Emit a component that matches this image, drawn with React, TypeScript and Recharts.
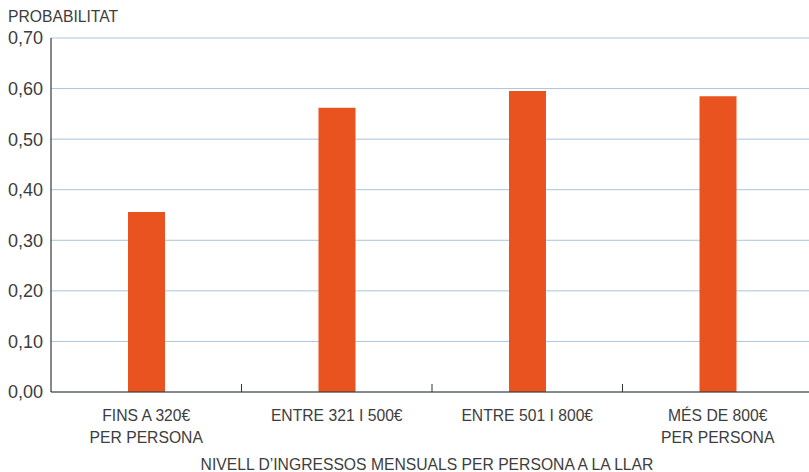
import { BarChart, Bar, XAxis, YAxis, CartesianGrid } from 'recharts';

const categories = [
  'FINS A 320€\nPER PERSONA',
  'ENTRE 321 I 500€',
  'ENTRE 501 I 800€',
  'MÉS DE 800€\nPER PERSONA',
];
const probabilities = [0.356, 0.562, 0.595, 0.585];
const yTicks = [0, 0.1, 0.2, 0.3, 0.4, 0.5, 0.6, 0.7];

const data = categories.map((name, i) => ({ name, value: probabilities[i] }));

const TEXT = '#3d3d3d';
const AXIS = '#333333';
const FONT = 15.7;

const CategoryTick = ({ x, y, payload, index }: any) => {
  const lines = String(payload.value).split('\n');
  const half = payload.offset ?? 0;
  return (
    <g>
      {index > 0 && <line x1={x - half} x2={x - half} y1={y - 8} y2={y} stroke={AXIS} strokeWidth={1} />}
      <text x={x} y={y} textAnchor="middle" fill={TEXT} fontSize={FONT}>
        {lines.map((l, i) => (
          <tspan key={i} x={x} dy={i === 0 ? 29 : 22}>
            {l}
          </tspan>
        ))}
      </text>
    </g>
  );
};

const App = () => {
  return (
    <div
      style={{
        position: 'absolute',
        left: 0,
        top: 0,
        width: 809,
        height: 472,
        overflow: 'hidden',
        fontFamily: '"Liberation Sans", Arial, sans-serif',
        background: '#fff',
      }}
    >
      <div
        style={{
          position: 'absolute',
          left: 8,
          top: 9,
          fontSize: FONT,
          lineHeight: '15px',
          color: TEXT,
        }}
      >
        PROBABILITAT
      </div>
      <BarChart
        width={820}
        height={472}
        data={data}
        margin={{ top: 38, right: 7, left: 0, bottom: 0 }}
        style={{ fontFamily: '"Liberation Sans", Arial, sans-serif' }}
      >
        <CartesianGrid vertical={false} stroke="#a9c5dd" strokeWidth={1} />
        <XAxis
          dataKey="name"
          height={80}
          interval={0}
          tickLine={false}
          tickSize={0}
          tickMargin={0}
          axisLine={{ stroke: AXIS, strokeWidth: 1 }}
          tick={<CategoryTick />}
          label={{
            value: 'NIVELL D’INGRESSOS MENSUALS PER PERSONA A LA LLAR',
            position: 'insideBottom',
            offset: 2,
            dx: -5,
            fill: TEXT,
            fontSize: FONT,
          }}
        />
        <YAxis
          width={51}
          domain={[0, 0.7]}
          ticks={yTicks}
          interval={0}
          tickLine={false}
          tickSize={0}
          tickMargin={8}
          axisLine={{ stroke: '#111', strokeWidth: 1 }}
          tick={{ fill: TEXT, fontSize: 18 }}
          tickFormatter={(v: number) => v.toFixed(2).replace('.', ',')}
        />
        <Bar dataKey="value" fill="#e9531f" barSize={37} isAnimationActive={false} />
      </BarChart>
    </div>
  );
};

export default App;
